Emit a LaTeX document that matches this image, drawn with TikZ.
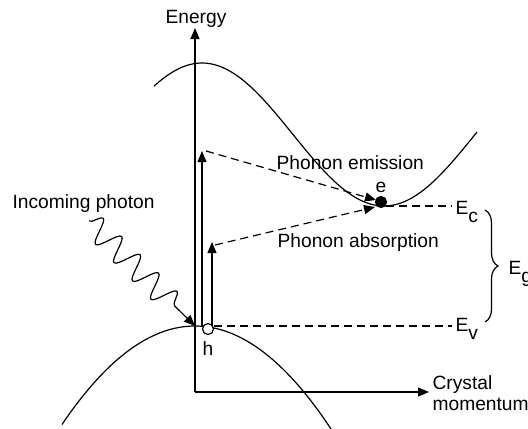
\documentclass[tikz,border=0pt]{standalone}
\usepackage{fontspec}
\setmainfont{Liberation Sans}
\usetikzlibrary{arrows.meta,decorations.pathmorphing,decorations.pathreplacing}
\begin{document}
\begin{tikzpicture}[x=0.5pt,y=-0.5pt, line width=0.6pt,
  lbl/.style={font=\fontsize{9.6}{11}\selectfont, inner sep=0pt},
  tipa/.style={-{Triangle[length=5.5pt,width=4.5pt]}},
  dsh/.style={dash pattern=on 4pt off 2.5pt}]
\useasboundingbox (0,0) rectangle (528,428);
% axes
\coordinate (O) at (195,392);
\coordinate (Etop) at (195,28);
\coordinate (Kend) at (429,392);
\draw[tipa] (O) -- (Etop);
\draw[tipa] (O) -- (Kend);
\node[lbl, anchor=base] (energy) at (196,23) {Energy};
\node[lbl, anchor=base west] (crys) at (432,389) {Crystal};
\node[lbl, anchor=base west] (mom) at (432,410) {momentum};
% bands
\draw plot[domain=62:333, samples=80, smooth] (\x, {326 + 103*((\x-195)/136)^2});
\draw plot[domain=154:477, samples=120, smooth] (\x, {134.5 - 71.5*cos(0.989*(\x-202))});
% carriers
\coordinate (vbmax) at (195,326);
\node[draw, circle, fill=white, minimum size=5.5pt, inner sep=0pt, line width=0.6pt] (hole) at (208,329) {};
\node[draw, circle, fill=black, minimum size=5.5pt, inner sep=0pt] (elec) at (381,202) {};
\node[lbl, anchor=base] (elbl) at (381,192) {e};
\node[lbl, anchor=base] (hlbl) at (208,355) {h};
% level lines
\coordinate (ecl) at (386,206);
\coordinate (ecr) at (452,206);
\coordinate (evl) at (214,326);
\coordinate (evr) at (452,326);
\draw[dsh] (ecl) -- (ecr);
\draw[dsh] (evl) -- (evr);
\node[lbl, anchor=base west] (Ec) at (455,214) {E\raisebox{-4pt}{c}};
\node[lbl, anchor=base west] (Ev) at (455,331) {E\raisebox{-4pt}{v}};
\node[lbl, anchor=base west] (Eg) at (508,274) {E\raisebox{-4pt}{g}};
\draw[decorate, decoration={brace, amplitude=6.5pt}] (485,210) -- (485,322);
% vertical transitions
\coordinate (a1s) at (202,326);
\coordinate (a1e) at (202,151);
\coordinate (a2s) at (212,326);
\coordinate (a2e) at (212,242);
\draw[tipa] (a1s) -- (a1e);
\draw[tipa] (a2s) -- (a2e);
% phonon transitions
\coordinate (em1) at (206,151);
\coordinate (em2) at (376,200);
\coordinate (ab1) at (215,245);
\coordinate (ab2) at (375,207);
\draw[dsh, tipa] (em1) -- (em2);
\draw[dsh, tipa] (ab1) -- (ab2);
\node[lbl, anchor=base west] (pem) at (276,169) {Phonon emission};
\node[lbl, anchor=base west] (pab) at (277,247) {Phonon absorption};
% photon
\node[lbl, anchor=base west] (photon) at (12,208) {Incoming photon};
\coordinate (ph1) at (89,221);
\draw[tipa, decorate, decoration={snake, amplitude=6pt, segment length=13pt, post length=9pt}] (ph1) -- (vbmax);
\end{tikzpicture}
\end{document}
